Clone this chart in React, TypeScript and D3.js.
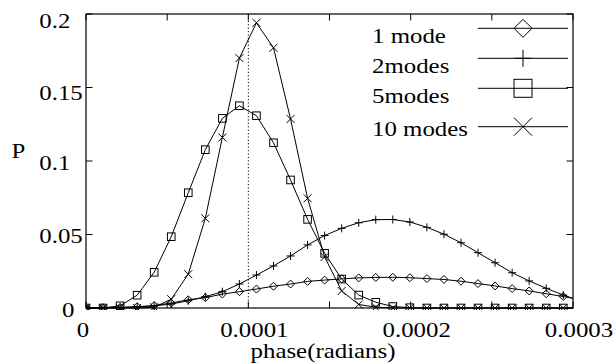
import React from "react";
import * as d3 from "d3";

// phase (radians) of each sample; last entry is the right edge of the curves (no marker)
const phase = [
  0, 1.05e-5, 2.1e-5, 3.15e-5, 4.2e-5, 5.25e-5, 6.3e-5, 7.35e-5, 8.4e-5, 9.45e-5,
  1.05e-4, 1.155e-4, 1.26e-4, 1.365e-4, 1.47e-4, 1.575e-4, 1.68e-4, 1.785e-4, 1.89e-4, 1.995e-4,
  2.1e-4, 2.205e-4, 2.31e-4, 2.415e-4, 2.52e-4, 2.625e-4, 2.73e-4, 2.835e-4, 2.94e-4, 3.0e-4,
];
const oneMode = [
  0.0001, 0.0002, 0.0004, 0.0009, 0.0017, 0.0034, 0.0056, 0.007, 0.0095, 0.0111,
  0.0129, 0.0148, 0.0163, 0.0181, 0.019, 0.0198, 0.0205, 0.0208, 0.0209, 0.0206,
  0.02, 0.0194, 0.0182, 0.0166, 0.015, 0.0132, 0.0116, 0.0097, 0.0078, 0.0066,
];
const twoModes = [
  0, 0.0001, 0.0003, 0.0007, 0.0014, 0.0027, 0.0049, 0.0077, 0.0111, 0.0163,
  0.0224, 0.0286, 0.0354, 0.0429, 0.0493, 0.0542, 0.058, 0.0601, 0.0602, 0.0585,
  0.0549, 0.0502, 0.0444, 0.0376, 0.0308, 0.024, 0.0184, 0.0134, 0.0088, 0.0066,
];
const fiveModes = [
  0, 0, 0.0015, 0.0087, 0.0243, 0.0485, 0.0784, 0.1077, 0.129, 0.1376,
  0.1308, 0.1124, 0.0871, 0.0603, 0.0372, 0.0197, 0.0088, 0.0039, 0.001, 0.0002,
  0, 0, 0, 0, 0, 0, 0, 0, 0, 0,
];
const tenModes = [
  0, 0, 0, 0, 0.0005, 0.006, 0.023, 0.061, 0.116, 0.17,
  0.194, 0.177, 0.1286, 0.0746, 0.0347, 0.0116, 0.0024, 0.0005, 0.0001, 0,
  0, 0, 0, 0, 0, 0, 0, 0, 0, 0,
];
const seriesNames = ["1 mode", "2modes", "5modes", "10 modes"];
const seriesMarkers = ["diamond", "plus", "square", "cross"];
const xTickLabels = ["0", "0.0001", "0.0002", "0.0003"];
const xMinorTicks = [0, 0.00005, 0.0001, 0.00015, 0.0002, 0.00025, 0.0003];
const yTickValues = [0, 0.05, 0.1, 0.15, 0.2];
const yTickLabels = ["0", "0.05", "0.1", "0.15", "0.2"];
const markerLine = 0.0001;

const W = 616;
const H = 364;
const L = 86, R = 573, T = 14, B = 308;
const FONT = "'Liberation Serif', 'Times New Roman', serif";

function Txt({ x, y, anchor = "start", children }: any) {
  return (
    <text
      transform={`translate(${x},${y}) scale(1.13,1)`}
      textAnchor={anchor}
      fontFamily={FONT}
      fontSize={22}
      fill="#000"
    >
      {children}
    </text>
  );
}

function Marker({ kind, x, y, s }: { kind: string; x: number; y: number; s: number }) {
  const common = { fill: "none", stroke: "#000", strokeWidth: 1 };
  if (kind === "diamond")
    return <path d={`M${x - s},${y}L${x},${y - s}L${x + s},${y}L${x},${y + s}Z`} {...common} />;
  if (kind === "plus")
    return <path d={`M${x - s},${y}H${x + s}M${x},${y - s}V${y + s}`} {...common} />;
  if (kind === "square")
    return <rect x={x - s} y={y - s} width={2 * s} height={2 * s} {...common} />;
  return <path d={`M${x - s},${y - s}L${x + s},${y + s}M${x - s},${y + s}L${x + s},${y - s}`} {...common} />;
}

export default function App() {
  const x = d3.scaleLinear().domain([0, 0.0003]).range([L, R]);
  const y = d3.scaleLinear().domain([0, 0.2]).range([B, T]);
  const all = [oneMode, twoModes, fiveModes, tenModes];
  const line = d3
    .line<number>()
    .x((_, i) => x(phase[i]))
    .y((v) => y(v));
  const tick = 6.5;
  const legendY = [28.3, 58.3, 88.3, 126.7];
  const legendBase = [43.3, 73.3, 103.3, 136];
  const legendMarkerSize = [9, 8.5, 9, 9];
  const yLabelBaseline = (lab: string, py: number) =>
    lab === "0.2" ? 28.3 : lab === "0.15" ? py + 12 : py + 8.5;

  return (
    <svg width={W} height={H} style={{ position: "absolute", left: 0, top: 0, background: "#fff" }}>
      <rect width={W} height={H} fill="#fff" />
      <defs>
        <clipPath id="plot">
          <rect x={L} y={T - 2} width={R - L} height={B - T + 4} />
        </clipPath>
      </defs>
      {/* dotted reference line */}
      <line x1={x(markerLine)} x2={x(markerLine)} y1={T} y2={B} stroke="#000" strokeWidth={1} strokeDasharray="1.2,2.2" />
      {/* series */}
      <g clipPath="url(#plot)">
        {all.map((vals, si) => (
          <g key={si}>
            <path d={line(vals) || ""} fill="none" stroke="#000" strokeWidth={1} />
            {vals.slice(0, vals.length - 1).map((v, i) => (
              <Marker key={i} kind={seriesMarkers[si]} x={x(phase[i])} y={y(v)} s={si === 2 ? 3.8 : 4} />
            ))}
          </g>
        ))}
      </g>
      {/* frame */}
      <rect x={L} y={T} width={R - L} height={B - T} fill="none" stroke="#000" strokeWidth={1.2} />
      {/* x ticks */}
      {xMinorTicks.map((t, i) => (
        <g key={i}>
          <line x1={x(t)} x2={x(t)} y1={B} y2={B - tick} stroke="#000" strokeWidth={1} />
          <line x1={x(t)} x2={x(t)} y1={T} y2={T + tick} stroke="#000" strokeWidth={1} />
        </g>
      ))}
      {xTickLabels.map((lab) => {
        const v = +lab;
        return (
          <Txt key={lab} x={x(v) + (lab === "0" ? -3 : 6)} y={336.5} anchor="middle">
            {lab}
          </Txt>
        );
      })}
      {/* y ticks */}
      {yTickValues.map((t, i) => (
        <g key={i}>
          <line x1={L} x2={L + tick} y1={y(t)} y2={y(t)} stroke="#000" strokeWidth={1} />
          <line x1={R} x2={R - tick} y1={y(t)} y2={y(t)} stroke="#000" strokeWidth={1} />
          <Txt x={yTickLabels[i] === "0" ? 62 : 39.3} y={yLabelBaseline(yTickLabels[i], y(t))}>
            {yTickLabels[i]}
          </Txt>
        </g>
      ))}
      {/* axis titles */}
      <Txt x={11.5} y={158}>P</Txt>
      <Txt x={323} y={357.5} anchor="middle">phase(radians)</Txt>
      {/* legend */}
      {seriesNames.map((name, i) => (
        <g key={name}>
          <Txt x={372} y={legendBase[i]}>{name}</Txt>
          <line x1={478} x2={568} y1={legendY[i]} y2={legendY[i]} stroke="#000" strokeWidth={1} />
          <Marker kind={seriesMarkers[i]} x={523} y={legendY[i]} s={legendMarkerSize[i]} />
        </g>
      ))}
    </svg>
  );
}
